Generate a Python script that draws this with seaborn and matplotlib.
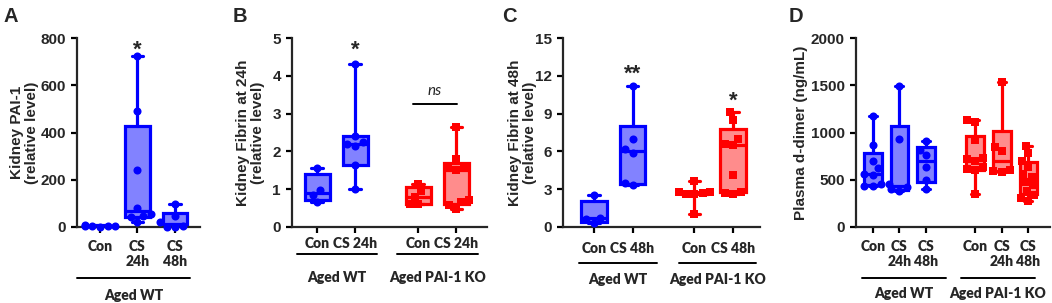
import numpy as np
import pandas as pd
import matplotlib
matplotlib.use("Agg")
import matplotlib.pyplot as plt
import matplotlib.transforms as mtransforms
import seaborn as sns

# Colores (WT azul, PAI-1 KO rojo)
AZUL = "#0000ff"
AZUL_CLARO = "#8282ff"
ROJO = "#ff0000"
ROJO_CLARO = "#ff8c8c"

# Panel A - Kidney PAI-1, solo Aged WT
a_grupos = ["Con", "CS\n24h", "CS\n48h"]
a_con = [3, 5, 4, 6, 2, 7]
a_cs24 = [725, 490, 240, 82, 55, 48, 42, 22]
a_cs48 = [97, 45, 20, 3, 2, 1]

# Panel B - Kidney Fibrin at 24h
b_grupos = ["Con", "CS 24h", "Con", "CS 24h"]
b_wt_con = [1.55, 0.97, 0.85, 0.66]
b_wt_cs24 = [4.32, 2.4, 2.25, 2.2, 2.15, 1.65, 1.0]
b_ko_con = [1.15, 0.95, 0.8, 0.62, 0.6]
b_ko_cs24 = [2.65, 1.8, 1.6, 1.55, 1.5, 0.72, 0.65, 0.58, 0.48]

# Panel C - Kidney Fibrin at 48h
c_grupos = ["Con", "CS 48h", "Con", "CS 48h"]
c_wt_con = [2.55, 0.75, 0.6, 0.3]
c_wt_cs48 = [11.2, 7.0, 6.2, 5.85, 3.5, 3.3]
c_ko_con = [3.65, 2.8, 2.75, 2.7, 2.65, 2.6, 1.0]
c_ko_cs48 = [9.1, 8.5, 7.0, 6.6, 6.5, 4.1, 2.8, 2.7, 2.6]

# Panel D - Plasma d-dimer
d_grupos = ["Con", "CS\n24h", "CS\n48h", "Con", "CS\n24h", "CS\n48h"]
d_wt_con = [1170, 870, 700, 620, 560, 550, 450, 430, 430]
d_wt_cs24 = [1490, 930, 450, 420, 400, 380]
d_wt_cs48 = [910, 820, 760, 640, 500, 400]
d_ko_con = [1130, 1110, 920, 730, 720, 700, 640, 610, 600, 350]
d_ko_cs24 = [1530, 850, 800, 600, 590, 580]
d_ko_cs48 = [860, 780, 700, 640, 560, 530, 480, 440, 380, 340, 310, 280]

sns.set_style("ticks")
plt.rcParams["font.family"] = ["Liberation Sans", "DejaVu Sans"]

FUENTE_Y = dict(fontfamily="Liberation Sans", fontweight="bold")
FUENTE_X = dict(fontfamily="Lato", fontweight=800)

W, H = 1052, 303


def dibujar_panel(ax, series, posiciones, genotipos, etiquetas, xlim, yticks):
    filas = []
    for vals, pos, gen in zip(series, posiciones, genotipos):
        borde, relleno = (AZUL, AZUL_CLARO) if gen == "WT" else (ROJO, ROJO_CLARO)
        # cuartiles al estilo GraphPad: (n+1)p
        q1, med, q3 = np.percentile(vals, [25, 50, 75], method="weibull")
        stats = [dict(med=med, q1=q1, q3=q3, whislo=min(vals), whishi=max(vals), fliers=[])]
        lw = 2.3
        ax.bxp(stats, positions=[pos], widths=0.66, patch_artist=True,
               capwidths=0.3, showfliers=False, manage_ticks=False,
               boxprops=dict(facecolor=relleno, edgecolor=borde, linewidth=lw),
               whiskerprops=dict(color=borde, linewidth=lw),
               capprops=dict(color=borde, linewidth=lw),
               medianprops=dict(color=borde, linewidth=lw))
        for v in vals:
            filas.append({"x": pos, "y": v, "gen": gen})
    df = pd.DataFrame(filas)
    for gen, d in df.groupby("gen"):
        color, marca = (AZUL, "o") if gen == "WT" else (ROJO, "s")
        sns.swarmplot(data=d, x="x", y="y", native_scale=True, orient="x",
                      color=color, marker=marca, size=5.8, ax=ax,
                      zorder=3, clip_on=False, warn_thresh=1)
    ax.set_xlim(*xlim)
    ax.set_ylim(yticks[0], yticks[-1])
    ax.set_yticks(yticks)
    ax.set_yticklabels([str(t) for t in yticks], fontsize=11, **FUENTE_Y)
    ax.set_xticks(posiciones)
    ax.set_xticklabels(etiquetas, fontsize=10, linespacing=1.12, **FUENTE_X)
    ax.set_xlabel("")
    sns.despine(ax=ax)
    for s in ["left", "bottom"]:
        ax.spines[s].set_linewidth(1.6)
    ax.tick_params(axis="both", width=1.6, length=4.5, color="black")


def linea_grupo(ax, x0, x1, y_linea, y_texto, texto):
    tr = mtransforms.blended_transform_factory(ax.transData, ax.transAxes)
    ax.plot([x0, x1], [y_linea, y_linea], color="black", lw=1.4,
            transform=tr, clip_on=False)
    ax.text((x0 + x1) / 2, y_texto, texto, transform=tr, ha="center", va="center",
            fontsize=10, **FUENTE_X)


def estrella(ax, x, y, texto):
    ax.text(x, y, texto, ha="center", va="center", fontsize=16,
            fontfamily="Liberation Sans", fontweight="bold")


def rect(x0, x1):
    return [x0 / W, 76 / H, (x1 - x0) / W, 189 / H]


fig = plt.figure(figsize=(W / 100, H / 100), dpi=100)

# ---- A
axA = fig.add_axes(rect(77, 200))
dibujar_panel(axA, [a_con, a_cs24, a_cs48], [0, 1, 2], ["WT"] * 3, a_grupos,
              (-0.613, 2.667), [0, 200, 400, 600, 800])
axA.tick_params(axis="x", pad=5)
axA.set_ylabel("Kidney PAI-1\n(relative level)", fontsize=11, linespacing=1.05,
               **FUENTE_Y)
axA.yaxis.set_label_coords(-0.31, 0.5)
estrella(axA, 1, 750, "*")
linea_grupo(axA, -0.61, 2.4, -0.27, -0.36, "Aged WT")

# ---- B
axB = fig.add_axes(rect(292, 487))
pos_b = [0, 1, 2.66, 3.66]
dibujar_panel(axB, [b_wt_con, b_wt_cs24, b_ko_con, b_ko_cs24], pos_b,
              ["WT", "WT", "KO", "KO"], b_grupos, (-0.66, 4.47), [0, 1, 2, 3, 4, 5])
axB.tick_params(axis="x", pad=3)
axB.set_ylabel("Kidney Fibrin at 24h\n(relative level)", fontsize=11,
               linespacing=1.05, **FUENTE_Y)
axB.yaxis.set_label_coords(-0.14, 0.5)
estrella(axB, 1, 4.68, "*")
axB.plot([2.53, 3.68], [3.25, 3.25], color="black", lw=1.4)
axB.text(3.1, 3.6, "ns", ha="center", va="center", fontsize=11,
         fontstyle="italic", fontweight="normal", fontfamily="Lato")
linea_grupo(axB, -0.53, 1.58, -0.143, -0.265, "Aged WT")
linea_grupo(axB, 2.1, 4.24, -0.143, -0.265, "Aged PAI-1 KO")

# ---- C
axC = fig.add_axes(rect(563, 760))
pos_c = [0, 1, 2.59, 3.59]
dibujar_panel(axC, [c_wt_con, c_wt_cs48, c_ko_con, c_ko_cs48], pos_c,
              ["WT", "WT", "KO", "KO"], c_grupos, (-0.79, 4.28), [0, 3, 6, 9, 12, 15])
axC.tick_params(axis="x", pad=6)
axC.set_ylabel("Kidney Fibrin at 48h\n(relative level)", fontsize=11,
               linespacing=1.05, **FUENTE_Y)
axC.yaxis.set_label_coords(-0.132, 0.5)
estrella(axC, 1, 12.1, "**")
estrella(axC, 3.59, 10.0, "*")
linea_grupo(axC, -0.38, 1.62, -0.19, -0.28, "Aged WT")
linea_grupo(axC, 2.2, 4.18, -0.19, -0.28, "Aged PAI-1 KO")

# ---- D
axD = fig.add_axes(rect(856, 1050))
pos_d = [0, 1, 2, 3.85, 4.85, 5.85]
dibujar_panel(axD, [d_wt_con, d_wt_cs24, d_wt_cs48, d_ko_con, d_ko_cs24, d_ko_cs48],
              pos_d, ["WT"] * 3 + ["KO"] * 3, d_grupos, (-0.63, 6.66),
              [0, 500, 1000, 1500, 2000])
axD.tick_params(axis="x", pad=5)
axD.set_ylabel("Plasma d-dimer (ng/mL)", fontsize=11, **FUENTE_Y)
axD.yaxis.set_label_coords(-0.247, 0.5)
linea_grupo(axD, -0.41, 2.74, -0.27, -0.35, "Aged WT")
linea_grupo(axD, 3.3, 6.1, -0.27, -0.35, "Aged PAI-1 KO")

# letras de panel
for letra, xp in zip("ABCD", [3, 233, 502, 789]):
    fig.text(xp / W, 1 - 7 / H, letra, ha="left", va="top", fontsize=14.5,
             fontfamily="Liberation Sans", fontweight="bold")

fig.savefig("out.png", dpi=100)
